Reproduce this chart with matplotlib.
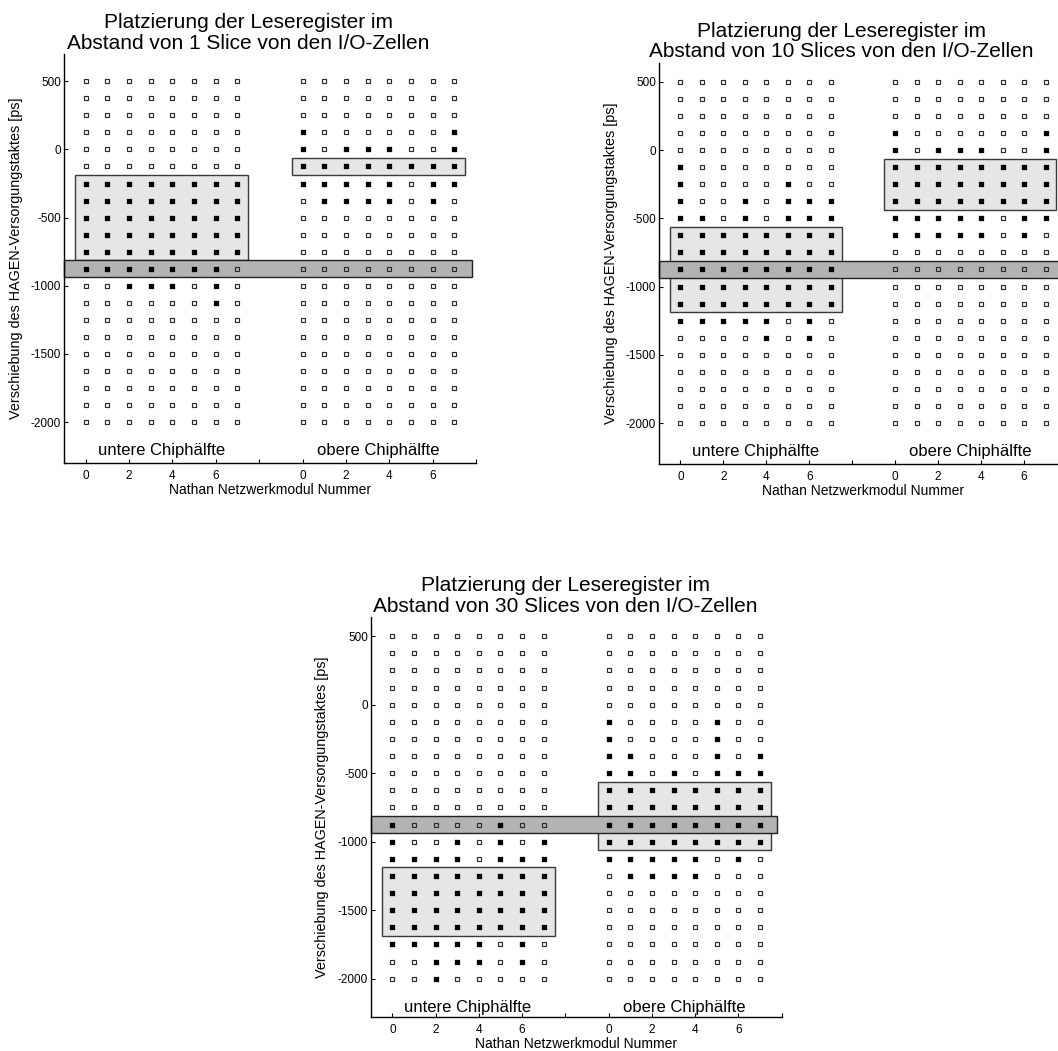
import matplotlib
matplotlib.use("Agg")
import matplotlib.pyplot as plt
from matplotlib.patches import Rectangle

plt.rcParams['font.family'] = ['Liberation Sans', 'DejaVu Sans']
plt.rcParams['axes.unicode_minus'] = False

# ---------------- data ----------------
DELAYS = [500, 375, 250, 125, 0, -125, -250, -375, -500, -625, -750,
          -875, -1000, -1125, -1250, -1375, -1500, -1625, -1750, -1875, -2000]
MODULES = [0, 1, 2, 3, 4, 5, 6, 7]
HALF_NAMES = ["untere Chiphälfte", "obere Chiphälfte"]
HALF_OFFSETS = [0, 10]
X_TICKS = [0, 2, 4, 6, 8, 10, 12, 14, 16, 18]
X_TICKLABELS = ['0', '2', '4', '6', '', '0', '2', '4', '6', '']
Y_TICKS = [500, 0, -500, -1000, -1500, -2000]
Y_TICKLABELS = ['500', '0', '-500', '-1000', '-1500', '-2000']

TITLES = [
    "Platzierung der Leseregister im\nAbstand von 1 Slice von den I/O-Zellen",
    "Platzierung der Leseregister im\nAbstand von 10 Slices von den I/O-Zellen",
    "Platzierung der Leseregister im\nAbstand von 30 Slices von den I/O-Zellen",
]

# 1 = filled square (read works), 0 = open square; one string per delay row
P1_LOWER = ["00000000", "00000000", "00000000", "00000000", "00000000",
            "00000000", "11111111", "11111111", "11111111", "11111111",
            "11111111", "11111110", "00111010", "00000010", "00000000",
            "00000000", "00000000", "00000000", "00000000", "00000000",
            "00000000"]
P1_UPPER = ["00000000", "00000000", "00000000", "10000001", "10111001",
            "11111111", "11111011", "01111010", "00000000", "00000000",
            "00000000", "00000000", "00000000", "00000000", "00000000",
            "00000000", "00000000", "00000000", "00000000", "00000000",
            "00000000"]
P2_LOWER = ["00000000", "00000000", "00000000", "00000000", "00000000",
            "10000000", "10000100", "10010111", "11010111", "11111111",
            "11111111", "11111111", "11111111", "11111111", "11111010",
            "00001010", "00000000", "00000000", "00000000", "00000000",
            "00000000"]
P2_UPPER = ["00000000", "00000000", "00000000", "10000001", "10111001",
            "11111111", "11111111", "11111111", "11111011", "11111010",
            "00000000", "00000000", "00000000", "00000000", "00000000",
            "00000000", "00000000", "00000000", "00000000", "00000000",
            "00000000"]
P3_LOWER = ["00000000", "00000000", "00000000", "00000000", "00000000",
            "00000000", "00000000", "00000000", "00000000", "00000000",
            "00000000", "10000100", "10010101", "11110111", "11111111",
            "11111111", "11111111", "11111111", "11111010", "00111010",
            "00100000"]
P3_UPPER = ["00000000", "00000000", "00000000", "00000000", "00000000",
            "10000100", "10000100", "11000101", "11010111", "11111111",
            "11111111", "11111111", "11111111", "11111010", "01111000",
            "00000000", "00000000", "00000000", "00000000", "00000000",
            "00000000"]

# highlighted delay ranges (first row, last row) per half
P1_BOXES = [(-250, -750), (-125, -125)]
P2_BOXES = [(-625, -1125), (-125, -375)]
P3_BOXES = [(-1250, -1625), (-625, -1000)]
BAND_DELAY = -875  # actual used clock shift (dark band)

PANELS = [
    (TITLES[0], P1_LOWER, P1_UPPER, P1_BOXES),
    (TITLES[1], P2_LOWER, P2_UPPER, P2_BOXES),
    (TITLES[2], P3_LOWER, P3_UPPER, P3_BOXES),
]

# ---------------- layout ----------------
W, H = 1058, 1051
AX_RECTS = [  # left, top, right, bottom in pixels
    (64, 54, 476, 463),
    (659, 62.7, 1067, 464),
    (370.7, 617, 781.7, 1017),
]
YLIMS = [(-2300, 700), (-2300, 640), (-2280, 640)]
TITLE_X = [7.5, 7.5, 8.0]
STEP = 125.0

fig = plt.figure(figsize=(W / 100, H / 100), dpi=100)

for i, (title, lower, upper, boxes) in enumerate(PANELS):
    l, t, r, b = AX_RECTS[i]
    ax = fig.add_axes([l / W, (H - b) / H, (r - l) / W, (b - t) / H])
    ax.set_xlim(-1, 18)
    ax.set_ylim(*YLIMS[i])

    # light boxes
    for (top_d, bot_d), off in zip(boxes, HALF_OFFSETS):
        ax.add_patch(Rectangle((off + MODULES[0] - 0.5, bot_d - STEP / 2),
                               MODULES[-1] - MODULES[0] + 1,
                               top_d - bot_d + STEP,
                               facecolor='#e6e6e6', edgecolor='#3a3a3a',
                               lw=1.0, zorder=1))
    # dark band
    ax.add_patch(Rectangle((-1, BAND_DELAY - STEP / 2), 18.8, STEP,
                           facecolor='#b3b3b3', edgecolor='#202020',
                           lw=1.0, zorder=2, clip_on=False))

    for grid, off in zip((lower, upper), HALF_OFFSETS):
        fx, fy, ox, oy = [], [], [], []
        for d, row in zip(DELAYS, grid):
            for m, c in zip(MODULES, row):
                if c == '1':
                    fx.append(m + off); fy.append(d)
                else:
                    ox.append(m + off); oy.append(d)
        ax.plot(ox, oy, 's', ms=2.9, mfc='none', mec='#2a2a2a', mew=0.85,
                zorder=3, clip_on=False)
        ax.plot(fx, fy, 's', ms=3.6, mfc='black', mec='black', mew=0.2,
                zorder=3, clip_on=False)

    for name, off in zip(HALF_NAMES, HALF_OFFSETS):
        ax.text(off + 3.5, -2210, name, ha='center', va='center',
                fontsize=12)

    ax.spines['top'].set_visible(False)
    ax.spines['right'].set_visible(False)
    ax.spines['left'].set_linewidth(1.0)
    ax.spines['bottom'].set_linewidth(1.0)
    ax.set_xticks(X_TICKS)
    ax.set_xticklabels(X_TICKLABELS)
    ax.set_yticks(Y_TICKS)
    ax.set_yticklabels(Y_TICKLABELS)
    ax.tick_params(axis='both', direction='in', length=3, width=0.8,
                   labelsize=8.5)
    ax.tick_params(axis='y', pad=2)
    ax.tick_params(axis='x', pad=5)
    ax.set_xlabel("Nathan Netzwerkmodul Nummer", fontsize=10, labelpad=1)
    ax.set_ylabel("Verschiebung des HAGEN-Versorgungstaktes [ps]",
                  fontsize=10.4, labelpad=6)
    ax.annotate(title, xy=(TITLE_X[i], 1.0),
                xycoords=('data', 'axes fraction'),
                xytext=(0, 1), textcoords='offset points',
                ha='center', va='bottom', fontsize=15, linespacing=1.1,
                annotation_clip=False)

fig.savefig("out.png", dpi=100)
